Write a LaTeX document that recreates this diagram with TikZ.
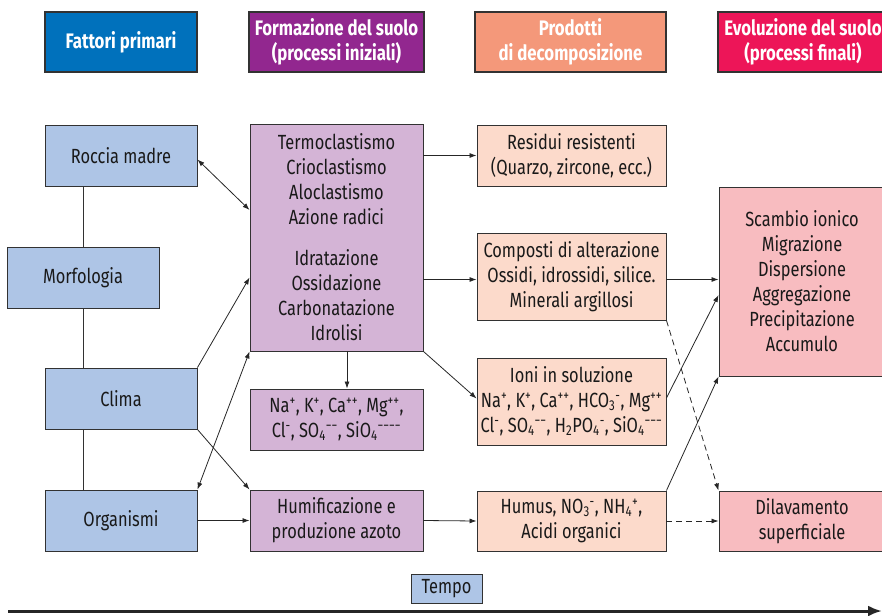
\documentclass[tikz,border=0pt]{standalone}
\usepackage{fontspec}
\setmainfont{Fira Sans}[FakeStretch=0.8]
\usetikzlibrary{arrows.meta}
\definecolor{hblue}{RGB}{0,113,188}
\definecolor{hpurple}{RGB}{146,39,143}
\definecolor{hsalmon}{RGB}{244,152,122}
\definecolor{hred}{RGB}{237,21,88}
\definecolor{lblue}{RGB}{174,197,230}
\definecolor{lpurple}{RGB}{212,180,214}
\definecolor{lpeach}{RGB}{252,218,203}
\definecolor{lpink}{RGB}{248,188,192}
\definecolor{edge}{RGB}{50,50,50}
\newcommand{\ssp}[2]{\textsubscript{#1}\textsuperscript{#2}}
\tikzset{
  base/.style={draw=edge, line width=0.9pt, rectangle, inner sep=0pt, align=center,
    font=\fontsize{20.5}{25}\selectfont, text=black!90},
  head/.style={base, minimum height=60pt, text=white, font=\fontsize{21}{25}\selectfont\bfseries, line width=1.2pt},
  bluebox/.style={base, fill=lblue, minimum width=152pt, minimum height=61pt},
  purpbox/.style={base, fill=lpurple, minimum width=173pt},
  peachbox/.style={base, fill=lpeach, minimum width=189pt},
  pinkbox/.style={base, fill=lpink, minimum width=166pt},
  conn/.style={draw=black!85, line width=0.8pt, -{Latex[length=7pt,width=5pt]}},
  bconn/.style={conn, {Latex[length=7pt,width=5pt]}-{Latex[length=7pt,width=5pt]}},
  dconn/.style={conn, dashed, dash pattern=on 6pt off 4pt},
  plain/.style={draw=edge, line width=0.9pt}
}
\begin{document}
\begin{tikzpicture}[x=1pt,y=-1pt]
\useasboundingbox (0,0) rectangle (882,615);
% headers
\node[head, fill=hblue, minimum width=152pt] (h1) at (121,42) {Fattori primari};
\node[head, fill=hpurple, minimum width=175pt] (h2) at (336.5,42) {Formazione del suolo\\(processi iniziali)};
\node[head, fill=hsalmon, minimum width=191pt] (h3) at (570.5,42) {Prodotti\\di decomposizione};
\node[head, fill=hred, minimum width=170pt] (h4) at (803,42) {Evoluzione del suolo\\(processi finali)};
% column 1
\node[bluebox] (roccia) at (121,155.5) {Roccia madre};
\node[bluebox] (morf) at (83,277.5) {Morfologia};
\node[bluebox] (clima) at (121,398.5) {Clima};
\node[bluebox] (org) at (121,520.5) {Organismi};
% column 2
\node[purpbox, minimum height=227pt] (form) at (336.5,237.5) {Termoclastismo\\Crioclastismo\\Aloclastismo\\Azione radici\\[16pt]Idratazione\\Ossidazione\\Carbonatazione\\Idrolisi};
\node[purpbox, minimum height=61pt] (ioni1) at (336.5,419.5) {Na\textsuperscript{+}, K\textsuperscript{+}, Ca\textsuperscript{++}, Mg\textsuperscript{++},\\Cl\textsuperscript{-}, SO\ssp{4}{−−}, SiO\ssp{4}{−−−−}};
\node[purpbox, minimum height=61pt] (humif) at (336.5,520.5) {Humificazione e\\produzione azoto};
% column 3
\node[peachbox, minimum height=61pt] (resid) at (571.5,155.5) {Residui resistenti\\(Quarzo, zircone, ecc.)};
\node[peachbox, minimum height=87pt] (comp) at (571.5,276.5) {Composti di alterazione\\Ossidi, idrossidi, silice.\\Minerali argillosi};
\node[peachbox, minimum height=87pt] (ioni2) at (571.5,401.5) {Ioni in soluzione\\Na\textsuperscript{+}, K\textsuperscript{+}, Ca\textsuperscript{++}, HCO\ssp{3}{-}, Mg\textsuperscript{++}\\Cl\textsuperscript{-}, SO\ssp{4}{−−}, H\textsubscript{2}PO\ssp{4}{-}, SiO\ssp{4}{−−−}};
\node[peachbox, minimum height=60pt] (humus) at (571.5,521) {Humus, NO\ssp{3}{-}, NH\ssp{4}{+},\\Acidi organici};
% column 4
\node[pinkbox, minimum height=189pt] (scamb) at (802,281.5) {Scambio ionico\\Migrazione\\Dispersione\\Aggregazione\\Precipitazione\\Accumulo};
\node[pinkbox, minimum height=60pt] (dilav) at (802,521) {Dilavamento\\superficiale};
% tempo
\node[base, fill=lblue, minimum width=71pt, minimum height=29pt] (tempo) at (446.5,588.5) {Tempo};
\coordinate (t0) at (8,611);
\coordinate (t1) at (882,611);
\draw[line width=3pt, draw=black!85, -{Latex[length=14pt,width=11pt]}] (t0) -- (t1);
% connectors column 1
\draw[plain] (roccia.south -| 83,0) -- (morf.north -| 83,0);
\draw[plain] (morf.south) -- (clima.north -| morf.south);
\draw[plain] (clima.south -| morf.south) -- (org.north -| morf.south);
\draw[bconn] ([yshift=-4pt]roccia.east) -- ([yshift=27.5pt]form.west);
\draw[conn] (clima.north east) -- ([yshift=-40pt]form.west);
\draw[bconn] (org.north east) -- (form.south west);
\draw[conn] (clima.south east) -- (humif.north west);
\draw[conn] (org.east) -- (humif.west);
% column 2 -> 3
\draw[conn] (form.east |- resid.west) -- (resid.west);
\draw[conn] ([yshift=-3pt]form.east |- comp.west) -- ([yshift=-3pt]comp.west);
\draw[conn] (form.south) ++(10.5,0) coordinate (fs) -- (fs |- ioni1.north);
\draw[conn] (form.south east) -- ([yshift=3pt]ioni2.west);
\draw[conn] (humif.east) -- (humus.west);
% column 3 -> 4
\draw[conn] ([yshift=-3pt]comp.east) -- ([yshift=-3pt]comp.east -| scamb.west);
\draw[conn] ([yshift=3.5pt]ioni2.east) -- ([yshift=-13.5pt]scamb.west);
\draw[conn] (humus.north east) -- (scamb.south west);
\draw[dconn] (comp.south east) -- (dilav.north west);
\draw[dconn] (humus.east) -- (dilav.west);
\end{tikzpicture}
\end{document}
